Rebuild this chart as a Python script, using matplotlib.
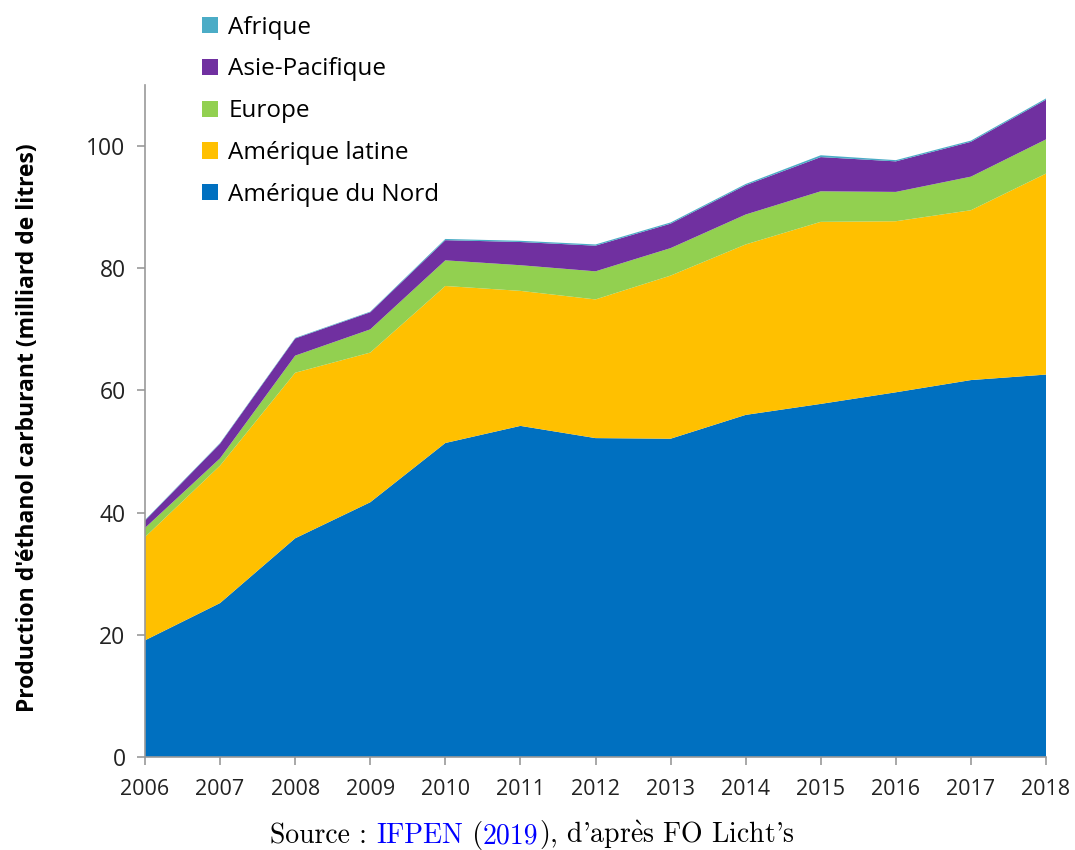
import matplotlib
matplotlib.use("Agg")
import matplotlib.pyplot as plt
from matplotlib.patches import Patch

years = [2006, 2007, 2008, 2009, 2010, 2011, 2012, 2013, 2014, 2015, 2016, 2017, 2018]
amerique_nord = [19.1, 25.2, 35.8, 41.7, 51.4, 54.2, 52.2, 52.1, 56.0, 57.8, 59.7, 61.7, 62.6]
amerique_latine = [16.9, 22.5, 27.1, 24.5, 25.7, 22.1, 22.7, 26.7, 27.9, 29.8, 28.0, 27.8, 32.9]
europe = [1.5, 1.2, 2.8, 3.8, 4.2, 4.2, 4.6, 4.5, 4.9, 5.0, 4.8, 5.5, 5.6]
asie_pacifique = [1.2, 2.4, 2.8, 2.8, 3.3, 3.8, 4.2, 4.0, 4.8, 5.6, 5.0, 5.7, 6.5]
afrique = [0.1, 0.1, 0.1, 0.1, 0.2, 0.2, 0.2, 0.2, 0.2, 0.3, 0.2, 0.2, 0.2]

labels = ["Amérique du Nord", "Amérique latine", "Europe", "Asie-Pacifique", "Afrique"]
colors = ["#0070C0", "#FFC000", "#92D050", "#7030A0", "#4BACC6"]
yticks = [0, 20, 40, 60, 80, 100]

plt.rcParams["mathtext.fontset"] = "cm"
font = ["Open Sans", "DejaVu Sans"]
serif = ["cmr10", "DejaVu Serif"]

fig = plt.figure(figsize=(10.75, 8.5), dpi=100)
ax = fig.add_axes([145/1075, 1-757/850, (1046-145)/1075, (757-85)/850])

ax.stackplot(years, amerique_nord, amerique_latine, europe, asie_pacifique, afrique,
             colors=colors, linewidth=0)

ax.set_xlim(years[0], years[-1])
ax.set_ylim(0, 110)
ax.set_xticks(years)
ax.set_xticklabels([str(y) for y in years], fontsize=15.5, family=font, color="#222222")
ax.set_yticks(yticks)
ax.set_yticklabels([str(v) for v in yticks], fontsize=16.5, family=font, color="#222222")
ax.tick_params(axis="both", direction="out", length=6, color="#999999", width=1.2)
ax.tick_params(axis="x", pad=10)
ax.tick_params(axis="y", pad=8)
for s in ["top", "right"]:
    ax.spines[s].set_visible(False)
for s in ["left", "bottom"]:
    ax.spines[s].set_color("#999999")
    ax.spines[s].set_linewidth(1.2)

ax.set_ylabel("Production d'éthanol carburant (milliard de litres)", fontsize=16.5,
              fontweight="bold", family=font)
ax.yaxis.set_label_coords(-0.117, 0.49)

handles = [Patch(facecolor=c, edgecolor="none") for c in colors][::-1]
leg = fig.legend(handles, labels[::-1], loc="upper left",
                 bbox_to_anchor=(192/1075, 1-6/850), frameon=False,
                 prop={"family": font, "size": 17.5},
                 handlelength=0.65, handleheight=0.65, handletextpad=0.45,
                 labelspacing=0.73, borderaxespad=0)

# Source caption, pieces placed on a common baseline
# (cmr10 maps ASCII ' to a curly apostrophe)
fs = 20
pieces = [("Source : ", "black"), ("IFPEN", "#0000FF"), (" (", "black"),
          ("2019", "#0000FF"), (r"), d'apr$\mathrm{\grave{e}}$s FO Licht's", "black")]
renderer = fig.canvas.get_renderer()
W = fig.bbox.width
x = 270 / 1075
y = 1 - 843 / 850
for txt, col in pieces:
    t = fig.text(x, y, txt, fontsize=fs, family=serif, ha="left", va="baseline", color=col)
    bb = t.get_window_extent(renderer)
    x += bb.width / W

fig.savefig("out.png", dpi=100)
